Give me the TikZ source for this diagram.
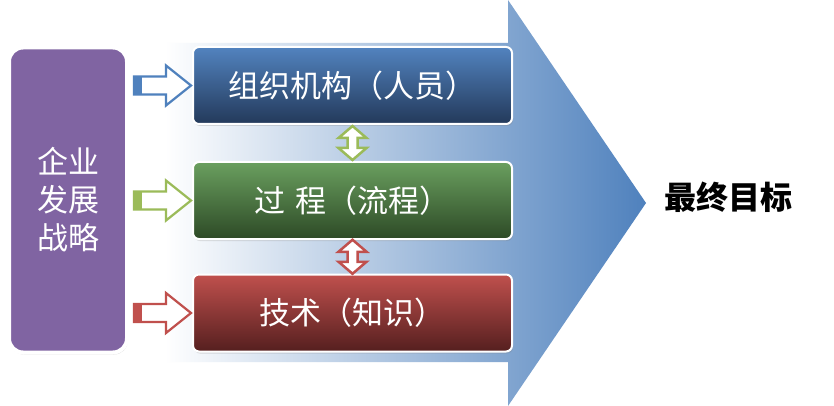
\documentclass[tikz,border=0pt]{standalone}
\usepackage{fontspec}
\setmainfont{Noto Sans CJK SC}
\usetikzlibrary{shadows,calc}
\definecolor{pblue}{HTML}{4F81BD}
\definecolor{bluetop}{HTML}{5283BF}
\definecolor{bluebot}{HTML}{23395A}
\definecolor{greentop}{HTML}{6A9F5F}
\definecolor{greenbot}{HTML}{2D4A26}
\definecolor{redtop}{HTML}{C0504D}
\definecolor{redbot}{HTML}{551F1F}
\definecolor{purp}{HTML}{8064A2}
\definecolor{agreen}{HTML}{9BBB59}
\definecolor{ared}{HTML}{C0504D}
\tikzset{
  stagebox/.style={draw=white, line width=2pt, rounded corners=6pt,
    minimum width=319pt, minimum height=77pt, inner sep=0pt,
    text=white, font=\fontsize{31}{31}\selectfont,
    drop shadow={opacity=0.25, shadow xshift=1pt, shadow yshift=-2pt}},
  stratbox/.style={draw=white, line width=4pt, rounded corners=14pt, fill=purp,
    minimum width=118pt, minimum height=305pt, inner sep=0pt, align=center,
    text=white, font=\fontsize{31}{38}\selectfont,
    drop shadow={opacity=0.3, shadow xshift=1pt, shadow yshift=-2pt}},
  goaltext/.style={font=\bfseries\fontsize{32}{32}\selectfont, inner sep=0pt}
}
\newcommand\inarr[2]{%
  \coordinate (#2in) at ($(#2.west)+(-1,0)$);
  \begin{scope}[shift={(#2in)}]
    \draw[line width=2.2pt, draw=#1, fill=white, line join=miter]
      (-57,-9) -- (-25,-9) -- (-25,-20) -- (0,0) -- (-25,20) -- (-25,9) -- (-57,9) -- cycle;
    \fill[#1] (-57,-9) rectangle (-49,9);
  \end{scope}}
\newcommand\dblarr[3]{%
  \coordinate (#2#3) at ($(#2.south)!0.5!(#3.north)$);
  \begin{scope}[shift={(#2#3)}]
    \draw[line width=2.5pt, draw=#1, fill=white, line join=miter]
      (0,-17) -- (14,-5) -- (5,-5) -- (5,5) -- (14,5) -- (0,17) -- (-14,5) -- (-5,5) -- (-5,-5) -- (-14,-5) -- cycle;
  \end{scope}}
\begin{document}
\begin{tikzpicture}[x=1pt,y=-1pt]
\useasboundingbox[fill=white] (0,0) rectangle (834,406);
% big background arrow
\path[left color=white, right color=pblue]
  (165,43) -- (508,43) -- (508,0) -- (646,203) -- (508,406) -- (508,362) -- (165,362) -- cycle;
% strategy box
\node[stratbox] (strat) at (68,200) {企业\\发展\\战略};
% stage boxes
\node[stagebox, top color=bluetop, bottom color=bluebot] (org) at (352.5,85.5) {组织机构（人员）};
\node[stagebox, top color=greentop, bottom color=greenbot] (proc) at (352.5,200.5) {过\,\,程（流程）};
\node[stagebox, top color=redtop, bottom color=redbot] (tech) at (352.5,313) {技术（知识）};
% arrows
\inarr{pblue}{org}
\inarr{agreen}{proc}
\inarr{ared}{tech}
\dblarr{agreen}{org}{proc}
\dblarr{ared}{proc}{tech}
% goal
\node[goaltext] (goal) at (728,197) {最终目标};
\end{tikzpicture}
\end{document}
